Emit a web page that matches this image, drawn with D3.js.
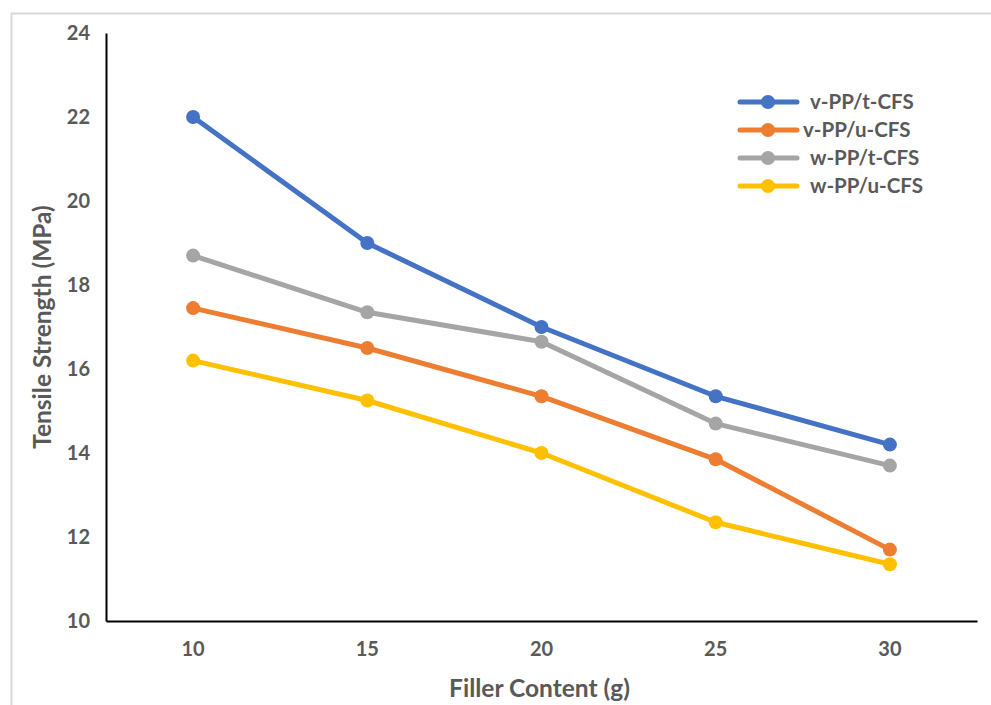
<!DOCTYPE html>
<html>
<head>
<meta charset="utf-8">
<script src="https://cdn.jsdelivr.net/npm/d3@7"></script>
<style>
  body { margin: 0; background: #fff; }
  svg text { font-family: Lato, "Open Sans", sans-serif; font-weight: bold; fill: #595959; }
</style>
</head>
<body>
<div id="chart"></div>
<script>
const fillerContent = ['10', '15', '20', '25', '30'];
const yTicks = [10, 12, 14, 16, 18, 20, 22, 24];

const seriesNames = ['v-PP/t-CFS', 'v-PP/u-CFS', 'w-PP/t-CFS', 'w-PP/u-CFS'];
const vPPtCFS = [22.0, 19.0, 17.0, 15.35, 14.2];
const vPPuCFS = [17.45, 16.5, 15.35, 13.85, 11.7];
const wPPtCFS = [18.7, 17.35, 16.65, 14.7, 13.7];
const wPPuCFS = [16.2, 15.25, 14.0, 12.35, 11.35];
const seriesColors = ['#4472c4', '#ed7d31', '#a5a5a5', '#ffc000'];

const width = 991;
const height = 705;
const margin = { top: 33, right: 14, bottom: 84, left: 106 };

const svg = d3.select('#chart')
  .append('svg')
  .attr('width', width)
  .attr('height', height);

// frame of the chart area
svg.append('path')
  .attr('d', `M11.5,${height} V13.5 H${width}`)
  .attr('fill', 'none')
  .attr('stroke', '#d9d9d9')
  .attr('stroke-width', 2);

const x = d3.scaleBand()
  .domain(fillerContent)
  .range([margin.left, width - margin.right]);

const y = d3.scaleLinear()
  .domain([10, 24])
  .range([height - margin.bottom, margin.top]);

const xAxis = svg.append('g')
  .attr('transform', `translate(0, ${height - margin.bottom})`)
  .call(d3.axisBottom(x).tickSize(0).tickPadding(21));

const yAxis = svg.append('g')
  .attr('transform', `translate(${margin.left}, 0)`)
  .call(d3.axisLeft(y).tickValues(yTicks).tickSize(0).tickPadding(16));

[xAxis, yAxis].forEach((g) => {
  g.select('.domain').attr('stroke', '#000').attr('stroke-width', 2);
  g.selectAll('text').attr('font-size', 20).style('font-family', 'Lato, sans-serif').attr('fill', '#595959');
});

svg.append('text')
  .attr('x', x.range()[0] + (x.range()[1] - x.range()[0]) / 2 - 2)
  .attr('y', 697)
  .attr('text-anchor', 'middle')
  .attr('font-size', 24.5)
  .text('Filler Content (g)');

svg.append('text')
  .attr('transform', `translate(51, ${y(17)}) rotate(-90)`)
  .attr('text-anchor', 'middle')
  .attr('font-size', 24.5)
  .text('Tensile Strength (MPa)');

const allSeries = [vPPtCFS, vPPuCFS, wPPtCFS, wPPuCFS];
// draw order: blue on top like the reference
const drawOrder = [3, 1, 2, 0];

const line = d3.line()
  .x((d, i) => x(fillerContent[i]) + x.bandwidth() / 2)
  .y((d) => y(d));

drawOrder.forEach((s) => {
  const g = svg.append('g');
  g.append('path')
    .datum(allSeries[s])
    .attr('d', line)
    .attr('fill', 'none')
    .attr('stroke', seriesColors[s])
    .attr('stroke-width', 5)
    .attr('stroke-linejoin', 'round');
  g.selectAll('circle')
    .data(allSeries[s])
    .enter()
    .append('circle')
    .attr('cx', (d, i) => x(fillerContent[i]) + x.bandwidth() / 2)
    .attr('cy', (d) => y(d))
    .attr('r', 7)
    .attr('fill', seriesColors[s]);
});

const legendX = [810, 803, 810, 810];
const legend = svg.append('g')
  .selectAll('g')
  .data(seriesNames)
  .enter()
  .append('g')
  .attr('transform', (d, i) => `translate(740, ${102 + i * 28})`);

legend.append('line')
  .attr('x1', 0)
  .attr('x2', 57)
  .attr('stroke', (d, i) => seriesColors[i])
  .attr('stroke-width', 5)
  .attr('stroke-linecap', 'round');

legend.append('circle')
  .attr('cx', 28)
  .attr('r', 7)
  .attr('fill', (d, i) => seriesColors[i]);

legend.append('text')
  .attr('x', (d, i) => legendX[i] - 740)
  .attr('y', 7)
  .attr('font-size', 20.5)
  .text((d) => d);
</script>
</body>
</html>
